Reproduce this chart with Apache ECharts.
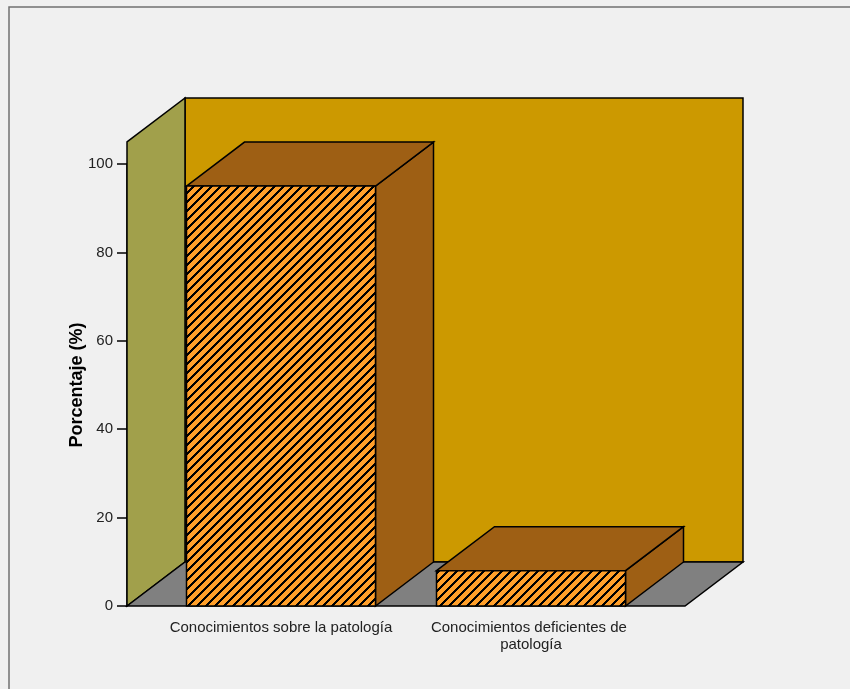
<!DOCTYPE html>
<html>
<head>
<meta charset="utf-8">
<script src="https://cdn.jsdelivr.net/npm/echarts@6/dist/echarts.min.js"></script>
<style>
  html, body { margin: 0; padding: 0; background: #F0F0F0; }
  #chart { width: 850px; height: 689px; }
</style>
</head>
<body>
<div id="chart"></div>
<script>
// Categories and percentages
const categories = ['Conocimientos sobre la patología', 'Conocimientos deficientes de patología'];
const percentages = [95, 8];
// Value axis ticks
const yTicks = [0, 20, 40, 60, 80, 100];

// 3D look: wall height (in axis units) and depth offset in pixels
const WALL_TOP = 105;
const DX = 58;
const DY = 44;
const BAR_FRACTION = 0.756;
const FONT = '"Liberation Sans", Arial, Helvetica, sans-serif';

// Crisp diagonal hatch for the front faces of the bars
function hatchCanvas() {
  const P = 9, T = 3, S = 36;
  const c = document.createElement('canvas');
  c.width = S; c.height = S;
  const ctx = c.getContext('2d');
  const img = ctx.createImageData(S, S);
  for (let y = 0; y < S; y++) {
    for (let x = 0; x < S; x++) {
      const i = (y * S + x) * 4;
      const dark = ((x + y) % P) < T;
      img.data[i] = dark ? 0 : 255;
      img.data[i + 1] = dark ? 0 : 159;
      img.data[i + 2] = dark ? 0 : 42;
      img.data[i + 3] = 255;
    }
  }
  ctx.putImageData(img, 0, 0);
  return c;
}
const hatch = { image: hatchCanvas(), repeat: 'repeat' };

const edge = { stroke: '#000', lineWidth: 1.5 };

const chart = echarts.init(document.getElementById('chart'), null, { renderer: 'canvas' });

chart.setOption({
  animation: false,
  backgroundColor: '#F0F0F0',
  graphic: [{
    type: 'rect',
    silent: true,
    shape: { x: 9, y: 7, width: 900, height: 800 },
    style: { fill: 'none', stroke: '#707070', lineWidth: 1.5 },
    z: 100
  }],
  grid: [
    { left: 127, top: 164, width: 558, height: 442 },
    { left: 156, top: 164, width: 500, height: 442 }
  ],
  xAxis: [
    { gridIndex: 0, type: 'category', data: categories, show: false },
    {
      gridIndex: 1, type: 'category', data: categories,
      axisLine: { show: false },
      axisTick: { alignWithLabel: true, length: 10, lineStyle: { color: '#000', width: 1.5 } },
      axisLabel: {
        interval: 0, margin: 13, fontSize: 15, color: '#222', fontFamily: FONT,
        width: 235, overflow: 'break', lineHeight: 17
      }
    }
  ],
  yAxis: [
    {
      gridIndex: 0, type: 'value',
      min: yTicks[0], max: yTicks[yTicks.length - 1], interval: yTicks[1] - yTicks[0],
      name: 'Porcentaje (%)', nameLocation: 'middle', nameGap: 41, nameMoveOverlap: false,
      nameTextStyle: { fontSize: 18, fontWeight: 'bold', color: '#000', fontFamily: FONT },
      axisLine: { show: true, lineStyle: { color: '#000', width: 1.5 } },
      axisTick: { show: true, length: 10, lineStyle: { color: '#000', width: 1.5 } },
      axisLabel: { margin: 14, fontSize: 15, color: '#222', fontFamily: FONT },
      splitLine: { show: false }
    },
    {
      gridIndex: 1, type: 'value', show: false,
      min: yTicks[0], max: yTicks[yTicks.length - 1], interval: yTicks[1] - yTicks[0]
    }
  ],
  series: [
    {
      // back wall, side wall and floor
      type: 'custom', xAxisIndex: 0, yAxisIndex: 0, silent: true,
      data: [[0, 0]],
      renderItem: function (params, api) {
        const cs = params.coordSys;
        const x0 = cs.x, x1 = cs.x + cs.width;
        const y0 = api.coord([0, 0])[1];
        const yt = api.coord([0, WALL_TOP])[1];
        return {
          type: 'group',
          children: [
            { type: 'polygon', shape: { points: [[x0 + DX, yt - DY], [x1 + DX, yt - DY], [x1 + DX, y0 - DY], [x0 + DX, y0 - DY]] },
              style: Object.assign({ fill: '#CC9900' }, edge) },
            { type: 'polygon', shape: { points: [[x0, yt], [x0 + DX, yt - DY], [x0 + DX, y0 - DY], [x0, y0]] },
              style: Object.assign({ fill: '#A1A04B' }, edge) },
            { type: 'polygon', shape: { points: [[x0, y0], [x0 + DX, y0 - DY], [x1 + DX, y0 - DY], [x1, y0]] },
              style: Object.assign({ fill: '#808080' }, edge) }
          ]
        };
      }
    },
    {
      // 3D bars
      type: 'custom', xAxisIndex: 1, yAxisIndex: 1, silent: true,
      encode: { x: 0, y: 1 },
      data: percentages.map(function (v, i) { return [i, v]; }),
      renderItem: function (params, api) {
        const top = api.coord([api.value(0), api.value(1)]);
        const base = api.coord([api.value(0), 0]);
        const w = api.size([1, 0])[0] * BAR_FRACTION;
        const l = top[0] - w / 2, r = top[0] + w / 2;
        const yt = top[1], yb = base[1];
        return {
          type: 'group',
          children: [
            { type: 'polygon', shape: { points: [[r, yt], [r + DX, yt - DY], [r + DX, yb - DY], [r, yb]] },
              style: Object.assign({ fill: '#9E5F14' }, edge) },
            { type: 'polygon', shape: { points: [[l, yt], [l + DX, yt - DY], [r + DX, yt - DY], [r, yt]] },
              style: Object.assign({ fill: '#9E5F14' }, edge) },
            { type: 'rect', shape: { x: l, y: yt, width: w, height: yb - yt },
              style: Object.assign({ fill: hatch }, edge) }
          ]
        };
      }
    }
  ]
});
</script>
</body>
</html>
